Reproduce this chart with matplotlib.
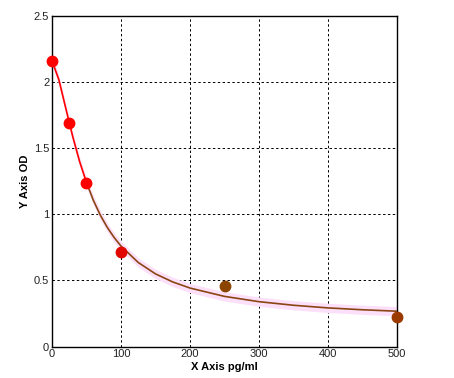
import numpy as np
import matplotlib.pyplot as plt

plt.rcParams['font.family'] = ['Liberation Sans', 'DejaVu Sans']

# standard points
conc = [0, 25, 50, 100, 250, 500]
od = [2.158, 1.687, 1.236, 0.715, 0.458, 0.222]
pt_colors = ['#ff0000', '#ff0000', '#ff0000', '#e00800', '#8b4500', '#9a3a00']

# fitted curve
curve_x = [0, 10, 20, 30, 40, 50, 60, 70, 80, 90, 100, 125, 150, 175, 200,
           250, 300, 350, 400, 450, 500]
curve_y = [2.16, 2.016, 1.80, 1.588, 1.399, 1.24, 1.105, 0.994, 0.902, 0.825,
           0.76, 0.636, 0.550, 0.489, 0.443, 0.380, 0.340, 0.313, 0.293,
           0.279, 0.268]

fig = plt.figure(figsize=(4.54, 3.78), dpi=100)
ax = fig.add_axes([0.1145, 0.0828, 0.76, 0.8757])

# faint pink band round the curve
ax.fill_between(curve_x, np.array(curve_y) - 0.035, np.array(curve_y) + 0.035,
                color='#fce0fa', lw=0, zorder=1)

ax.grid(True, color='black', linestyle=(0, (2.5, 2.5)), linewidth=0.7, zorder=2)

split = 6
ax.plot(curve_x[:split], curve_y[:split], color='#ff0000', lw=1.2, zorder=3)
ax.plot(curve_x[split - 1:], curve_y[split - 1:], color='#8b4513', lw=1.2, zorder=3)

for x, y, c in zip(conc, od, pt_colors):
    ax.plot(x, y, 'o', ms=7.5, color=c, zorder=4, clip_on=False)

ax.set_xlim(0, 500)
ax.set_ylim(0, 2.5)
ax.set_xticks([0, 100, 200, 300, 400, 500])
ax.set_yticks([0, 0.5, 1, 1.5, 2, 2.5])
ax.set_yticklabels(['0', '0.5', '1', '1.5', '2', '2.5'])
ax.tick_params(length=0, labelsize=8, pad=2, labelcolor='#222222')
for s in ax.spines.values():
    s.set_linewidth(1.0)
ax.set_axisbelow(True)

ax.set_xlabel('X Axis pg/ml', fontsize=8, fontweight='bold', labelpad=2)
ax.set_ylabel('Y Axis OD', fontsize=8, fontweight='bold', labelpad=3)

fig.savefig('out.png', dpi=100)
